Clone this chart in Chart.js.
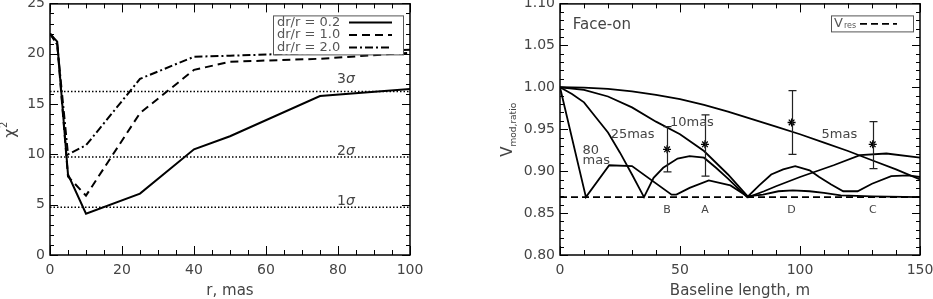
<!DOCTYPE html>
<html>
<head>
<meta charset="utf-8">
<script src="https://cdn.jsdelivr.net/npm/chart.js@4.4.0/dist/chart.umd.min.js"></script>
<style>
html, body { margin: 0; padding: 0; background: #fff; overflow: hidden; width: 933px; height: 299px; }
#wrap { position: relative; width: 933px; height: 299px; overflow: hidden; }
#chiChart { position: absolute; left: 0; top: -10px; }
#visChart { position: absolute; left: 466px; top: -10px; }
</style>
</head>
<body>
<div id="wrap">
    <canvas id="chiChart" width="466" height="309"></canvas>
    <canvas id="visChart" width="480" height="309"></canvas>
</div>
<script>
// ---- left panel: chi^2 against ring radius ----
const radius  = [0, 2, 5, 10, 25, 40, 50, 75, 100];
const chiDr02 = [22.0, 21.2, 8.0, 4.1, 6.1, 10.5, 11.8, 15.8, 16.5];
const chiDr10 = [22.0, 21.0, 7.8, 5.9, 14.1, 18.4, 19.2, 19.5, 20.1];
const chiDr20 = [22.0, 20.9, 10.0, 10.9, 17.5, 19.7, 19.8, 20.1, 20.4];
const sigmaLevels = [4.74, 9.74, 16.24];
const sigmaNames  = ['1', '2', '3'];
const chiXTicks = [0, 20, 40, 60, 80, 100];
const chiYTicks = [0, 5, 10, 15, 20, 25];

// ---- right panel: visibility ratio against baseline ----
const base5  = [0, 10, 20, 30, 40, 50, 60, 70, 80, 90, 100, 110, 120, 130, 140, 150];
const vis5   = [1.000, 0.9995, 0.998, 0.995, 0.991, 0.986, 0.979, 0.971, 0.962, 0.953, 0.944, 0.934, 0.924, 0.913, 0.902, 0.890];
const base10 = [0, 10, 20, 30, 40, 50, 60, 70, 78.5, 85, 90, 100, 114, 125, 136, 150];
const vis10  = [1.000, 0.997, 0.989, 0.976, 0.959, 0.944, 0.924, 0.896, 0.869, 0.876, 0.882, 0.893, 0.907, 0.919, 0.921, 0.916];
const base25 = [0, 5, 10, 15, 20, 25, 30, 35, 39, 43, 49, 54, 60, 65, 70, 78, 83, 88, 93, 98, 104, 108, 113, 118, 124, 130, 138, 145, 150];
const vis25  = [1.000, 0.992, 0.982, 0.964, 0.946, 0.922, 0.896, 0.869, 0.892, 0.904, 0.915, 0.918, 0.916, 0.904, 0.891, 0.869, 0.883, 0.896, 0.902, 0.906, 0.901, 0.893, 0.884, 0.876, 0.876, 0.885, 0.894, 0.895, 0.893];
const base80 = [0, 10.8, 20.5, 30, 46.5, 48.5, 54, 62, 71, 78, 84.6, 91, 97, 104, 110, 117, 130, 150];
const vis80  = [1.000, 0.869, 0.907, 0.906, 0.872, 0.872, 0.880, 0.889, 0.883, 0.870, 0.872, 0.876, 0.877, 0.876, 0.874, 0.871, 0.870, 0.869];
const vRes = 0.869;
const obsBase = [44.6, 60.4, 96.5, 130.3];
const obsVis  = [0.926, 0.932, 0.958, 0.932];
const obsLow  = [0.899, 0.894, 0.920, 0.903];
const obsHigh = [0.953, 0.967, 0.996, 0.959];
const obsNames = ['B', 'A', 'D', 'C'];
const visXTicks = [0, 50, 100, 150];
const visYTicks = [0.80, 0.85, 0.90, 0.95, 1.00, 1.05, 1.10];

const FONT = '"DejaVu Sans", sans-serif';
const INK = '#444';

function pts(xs, ys) {
    return xs.map((x, i) => ({ x: x, y: ys[i] }));
}

// box round the plot with IDL style inward ticks on all four sides
const frameTicks = {
    id: 'frameTicks',
    afterDatasetsDraw(chart, args, opts) {
        const ctx = chart.ctx;
        const a = chart.chartArea;
        const xs = chart.scales.x;
        const ys = chart.scales.y;
        ctx.save();
        ctx.strokeStyle = '#000';
        ctx.lineWidth = 1;
        const nx = Math.round((xs.max - xs.min) / opts.xMinor);
        for (let i = 0; i <= nx; i++) {
            const px = Math.round(xs.getPixelForValue(xs.min + i * opts.xMinor)) + 0.5;
            const len = i % opts.xEvery === 0 ? 9 : 5;
            ctx.beginPath();
            ctx.moveTo(px, a.bottom); ctx.lineTo(px, a.bottom - len);
            ctx.moveTo(px, a.top); ctx.lineTo(px, a.top + len);
            ctx.stroke();
        }
        const ny = Math.round((ys.max - ys.min) / opts.yMinor);
        for (let i = 0; i <= ny; i++) {
            const py = Math.round(ys.getPixelForValue(ys.min + i * opts.yMinor)) + 0.5;
            const len = i % opts.yEvery === 0 ? 8 : 4;
            ctx.beginPath();
            ctx.moveTo(a.left, py); ctx.lineTo(a.left + len, py);
            ctx.moveTo(a.right, py); ctx.lineTo(a.right - len, py);
            ctx.stroke();
        }
        ctx.lineWidth = 1.5;
        ctx.strokeRect(a.left, a.top + 0.5, a.right - a.left, a.bottom - a.top - 0.5);
        ctx.restore();
    }
};

function drawLineSample(ctx, ds, x1, x2, y) {
    ctx.save();
    ctx.strokeStyle = ds.borderColor;
    ctx.lineWidth = ds.borderWidth;
    ctx.setLineDash(ds.borderDash || []);
    ctx.beginPath();
    ctx.moveTo(x1, y); ctx.lineTo(x2, y);
    ctx.stroke();
    ctx.restore();
}

// sigma labels, legend and the chi^2 axis title
const chiNotes = {
    id: 'chiNotes',
    afterDraw(chart) {
        const ctx = chart.ctx;
        const a = chart.chartArea;
        const xs = chart.scales.x;
        const ys = chart.scales.y;
        const labelY = [5.3, 10.3, 17.5];
        ctx.save();
        ctx.fillStyle = INK;
        ctx.textBaseline = 'middle';
        sigmaNames.forEach((n, i) => {
            const cx = xs.getPixelForValue(82.2);
            const cy = ys.getPixelForValue(labelY[i]);
            ctx.font = '14px ' + FONT;
            const w1 = ctx.measureText(n).width;
            ctx.font = 'italic 14px ' + FONT;
            const w2 = ctx.measureText('σ').width;
            const x0 = cx - (w1 + w2) / 2;
            ctx.font = '14px ' + FONT;
            ctx.fillText(n, x0, cy);
            ctx.font = 'italic 14px ' + FONT;
            ctx.fillText('σ', x0 + w1, cy);
        });

        // legend box, text first then the line sample
        const bx = a.right - 137, by = a.top + 12, bw = 130, bh = 39;
        ctx.fillStyle = '#fff';
        ctx.fillRect(bx, by, bw, bh);
        ctx.strokeStyle = '#555';
        ctx.lineWidth = 1;
        ctx.strokeRect(bx + 0.5, by + 0.5, bw, bh);
        ctx.font = '13px ' + FONT;
        ctx.fillStyle = '#555';
        const entries = chart.data.datasets.filter(d => d.label);
        entries.forEach((ds, i) => {
            const ry = by + 7 + i * 12.5;
            ctx.fillText(ds.label, bx + 4, ry);
            drawLineSample(ctx, ds, bx + 76, bx + 119, ry);
        });

        // rotated chi^2 title
        ctx.fillStyle = INK;
        ctx.translate(a.left - 35, (a.top + a.bottom) / 2 + 8.5);
        ctx.rotate(-Math.PI / 2);
        ctx.textBaseline = 'alphabetic';
        ctx.font = '16px ' + FONT;
        ctx.fillText('χ', 0, 0);
        const wc = ctx.measureText('χ').width;
        ctx.font = '10px ' + FONT;
        ctx.fillText('2', wc + 0.5, -8);
        ctx.restore();
    }
};

// error bars, point letters, curve names, legend and the V axis title
const visNotes = {
    id: 'visNotes',
    afterDraw(chart) {
        const ctx = chart.ctx;
        const a = chart.chartArea;
        const xs = chart.scales.x;
        const ys = chart.scales.y;
        ctx.save();
        ctx.strokeStyle = '#222';
        ctx.lineWidth = 1.2;
        obsBase.forEach((b, i) => {
            const px = Math.round(xs.getPixelForValue(b)) + 0.5;
            const top = ys.getPixelForValue(obsHigh[i]);
            const bot = ys.getPixelForValue(obsLow[i]);
            ctx.beginPath();
            ctx.moveTo(px, top); ctx.lineTo(px, bot);
            ctx.moveTo(px - 4, top); ctx.lineTo(px + 4, top);
            ctx.moveTo(px - 4, bot); ctx.lineTo(px + 4, bot);
            ctx.stroke();
        });

        ctx.fillStyle = INK;
        ctx.textBaseline = 'middle';
        ctx.textAlign = 'center';
        ctx.font = '11px ' + FONT;
        obsNames.forEach((n, i) => {
            ctx.fillText(n, xs.getPixelForValue(obsBase[i]), ys.getPixelForValue(0.853));
        });

        ctx.textAlign = 'left';
        ctx.font = '13px ' + FONT;
        const curveNotes = [
            ['80', 9.4, 0.924], ['mas', 9.4, 0.912], ['25mas', 21.1, 0.944],
            ['10mas', 45.8, 0.958], ['5mas', 109, 0.944]
        ];
        curveNotes.forEach(c => {
            ctx.fillText(c[0], xs.getPixelForValue(c[1]), ys.getPixelForValue(c[2]));
        });
        ctx.font = '15px ' + FONT;
        ctx.fillText('Face-on', xs.getPixelForValue(5.3), ys.getPixelForValue(1.074));

        // V_res legend
        const bx = a.right - 89, by = a.top + 12, bw = 82, bh = 16;
        ctx.strokeStyle = '#555';
        ctx.lineWidth = 1;
        ctx.strokeRect(bx + 0.5, by + 0.5, bw, bh);
        ctx.fillStyle = '#555';
        ctx.font = '13px ' + FONT;
        ctx.fillText('V', bx + 3, by + 8);
        ctx.font = '8px ' + FONT;
        ctx.fillText('res', bx + 13, by + 11);
        const resDs = chart.data.datasets.find(d => d.label === 'Vres');
        drawLineSample(ctx, resDs, bx + 29, bx + 66, by + 8.5);

        // rotated V_mod,ratio title
        ctx.fillStyle = INK;
        ctx.translate(a.left - 48, (a.top + a.bottom) / 2 + 27.5);
        ctx.rotate(-Math.PI / 2);
        ctx.textBaseline = 'alphabetic';
        ctx.font = '15px ' + FONT;
        ctx.fillText('V', 0, 0);
        const wv = ctx.measureText('V').width;
        ctx.font = '9px ' + FONT;
        ctx.fillText('mod,ratio', wv, 4);
        ctx.restore();
    }
};

function axisX(ticks, title, height) {
    return {
        type: 'linear',
        min: ticks[0],
        max: ticks[ticks.length - 1],
        afterBuildTicks: s => { s.ticks = ticks.map(v => ({ value: v })); },
        afterFit: s => { s.height = height; },
        grid: { display: false, drawTicks: false },
        border: { display: false },
        ticks: { font: { family: FONT, size: 14 }, color: INK, padding: 7, maxRotation: 0, autoSkip: false },
        title: { display: true, text: title, font: { family: FONT, size: 15, lineHeight: 1 }, color: INK, padding: 0 }
    };
}

function axisY(ticks, width, digits) {
    return {
        type: 'linear',
        min: ticks[0],
        max: ticks[ticks.length - 1],
        afterBuildTicks: s => { s.ticks = ticks.map(v => ({ value: v })); },
        afterFit: s => { s.width = width; },
        grid: { display: false, drawTicks: false },
        border: { display: false },
        ticks: {
            font: { family: FONT, size: 14 }, color: INK, padding: 5, autoSkip: false,
            callback: v => Number(v).toFixed(digits)
        }
    };
}

const chiSets = [
    { label: 'dr/r = 0.2', data: pts(radius, chiDr02), borderColor: '#000', borderWidth: 2, borderDash: [] },
    { label: 'dr/r = 1.0', data: pts(radius, chiDr10), borderColor: '#000', borderWidth: 2, borderDash: [8, 5] },
    { label: 'dr/r = 2.0', data: pts(radius, chiDr20), borderColor: '#000', borderWidth: 2, borderDash: [8, 3, 2, 3] }
];
sigmaLevels.forEach(lv => {
    chiSets.push({ label: '', data: [{ x: 0, y: lv }, { x: 100, y: lv }], borderColor: '#000', borderWidth: 1.4, borderDash: [1.5, 2] });
});

const chiChart = new Chart(document.getElementById('chiChart'), {
    type: 'line',
    data: { datasets: chiSets },
    options: {
        responsive: false,
        animation: false,
        devicePixelRatio: 1,
        layout: { padding: { top: 10, right: 56, left: 0, bottom: 0 } },
        elements: { point: { radius: 0 }, line: { tension: 0 } },
        plugins: {
            legend: { display: false },
            tooltip: { enabled: false },
            frameTicks: { xMinor: 5, xEvery: 4, yMinor: 1, yEvery: 5 }
        },
        scales: {
            x: axisX(chiXTicks, 'r, mas', 44),
            y: axisY(chiYTicks, 50, 0)
        }
    },
    plugins: [frameTicks, chiNotes]
});

const visChart = new Chart(document.getElementById('visChart'), {
    type: 'line',
    data: {
        datasets: [
            { label: 'Vres', data: [{ x: 0, y: vRes }, { x: 150, y: vRes }], borderColor: '#000', borderWidth: 1.8, borderDash: [7, 4] },
            { label: '5mas', data: pts(base5, vis5), borderColor: '#000', borderWidth: 1.8 },
            { label: '10mas', data: pts(base10, vis10), borderColor: '#000', borderWidth: 1.8 },
            { label: '25mas', data: pts(base25, vis25), borderColor: '#000', borderWidth: 1.8 },
            { label: '80mas', data: pts(base80, vis80), borderColor: '#000', borderWidth: 1.8 },
            {
                label: 'obs', data: pts(obsBase, obsVis), showLine: false,
                pointStyle: 'star', pointRadius: 4, borderColor: '#000', borderWidth: 1.3
            }
        ]
    },
    options: {
        responsive: false,
        animation: false,
        devicePixelRatio: 1,
        layout: { padding: { top: 10, right: 26, left: 0, bottom: 0 } },
        elements: { point: { radius: 0 }, line: { tension: 0 } },
        plugins: {
            legend: { display: false },
            tooltip: { enabled: false },
            frameTicks: { xMinor: 10, xEvery: 5, yMinor: 0.01, yEvery: 5 }
        },
        scales: {
            x: axisX(visXTicks, 'Baseline length, m', 44),
            y: axisY(visYTicks, 94, 2)
        }
    },
    plugins: [frameTicks, visNotes]
});
</script>
</body>
</html>
